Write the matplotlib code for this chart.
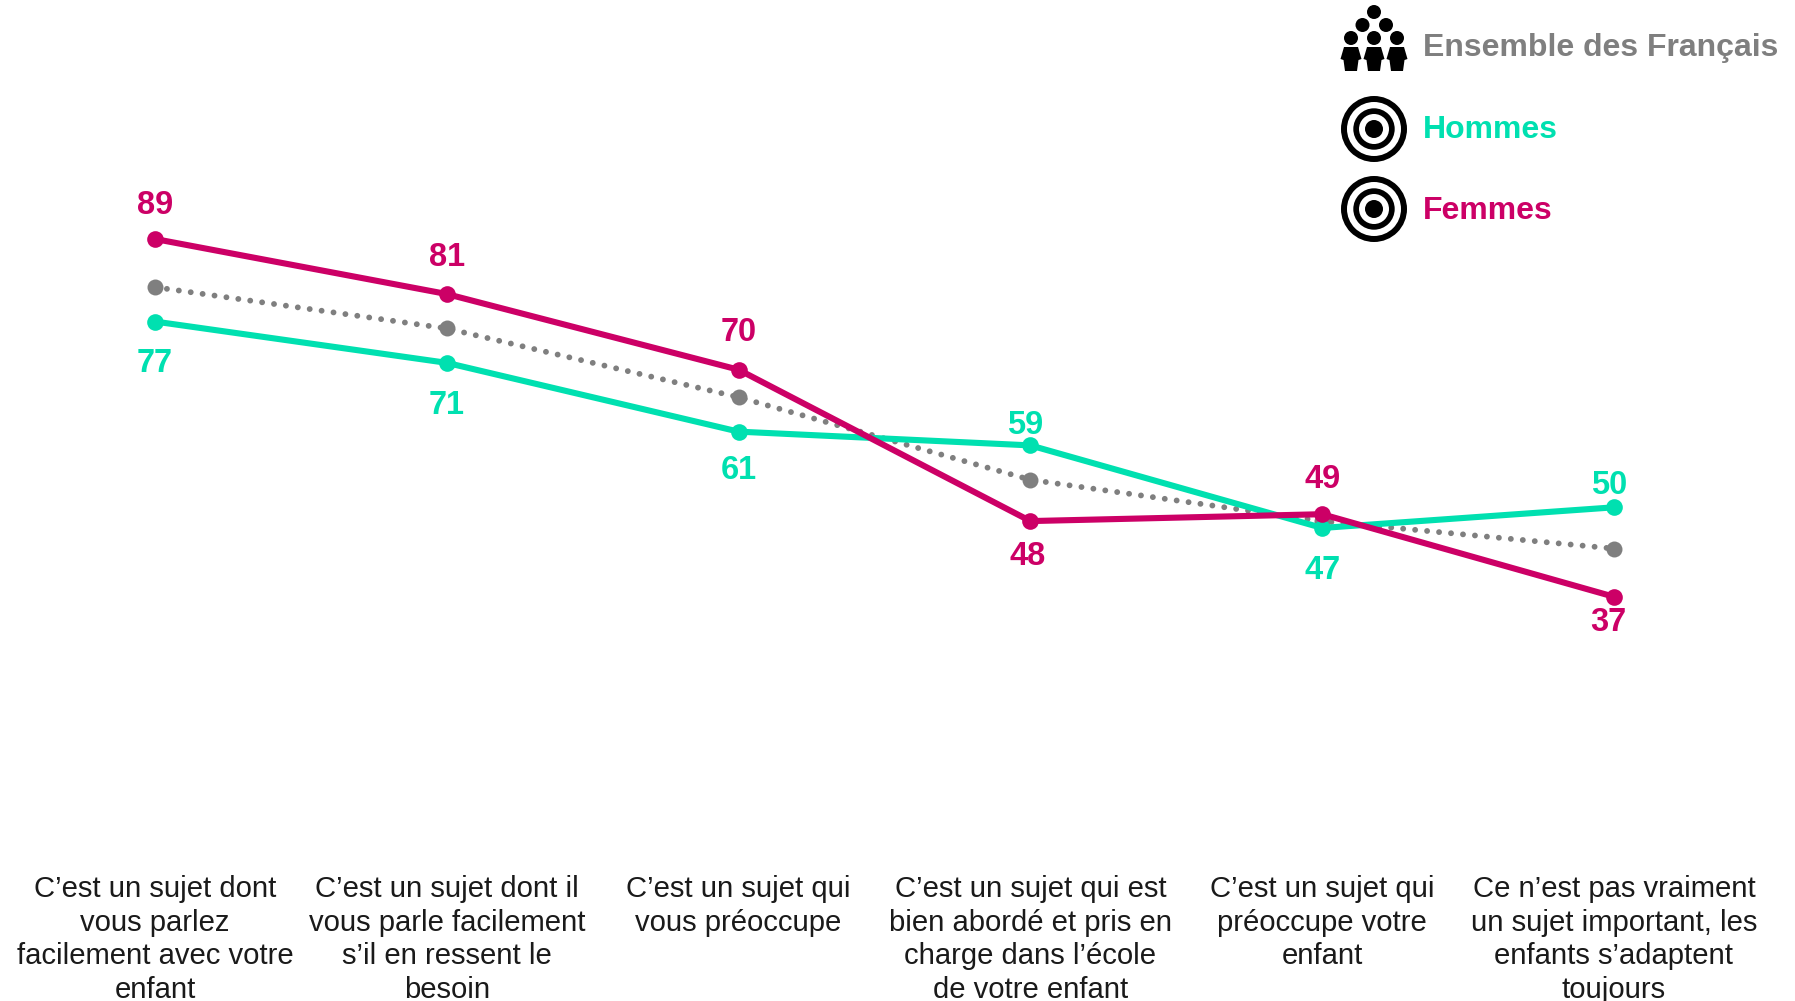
import matplotlib
matplotlib.use("Agg")
import matplotlib.pyplot as plt
from matplotlib.patches import Circle, Polygon

plt.rcParams['font.family'] = ['Liberation Sans', 'DejaVu Sans']

categories = [
    "C’est un sujet dont\nvous parlez\nfacilement avec votre\nenfant",
    "C’est un sujet dont il\nvous parle facilement\ns’il en ressent le\nbesoin",
    "C’est un sujet qui\nvous préoccupe",
    "C’est un sujet qui est\nbien abordé et pris en\ncharge dans l’école\nde votre enfant",
    "C’est un sujet qui\npréoccupe votre\nenfant",
    "Ce n’est pas vraiment\nun sujet important, les\nenfants s’adaptent\ntoujours",
]
ensemble = [82, 76, 66, 54, 48, 44]
hommes = [77, 71, 61, 59, 47, 50]
femmes = [89, 81, 70, 48, 49, 37]

GREY = "#7f7f7f"
GREEN = "#00e0b0"
PINK = "#cc0066"

# label offsets from the point, in pixels
femmes_dx = [0, 0, 0, -3, 0, -6]
femmes_dy = [33, 37, 37, -35, 35, -26]
hommes_dx = [0, 0, 0, -5, 0, -5]
hommes_dy = [-42, -43, -39, 20, -43, 22]

W, H = 1795, 1001
fig = plt.figure(figsize=(W / 100, H / 100), dpi=100)
ax = fig.add_axes([0, 0, 1, 1])
ax.set_xlim(-155 / 291.8, (W - 155) / 291.8)
ax.set_ylim(89 - (H - 239) / 6.88, 89 + 239 / 6.88)
ax.axis("off")

x = list(range(len(categories)))
ax.plot(x, ensemble, color=GREY, lw=4.2, ls=(0, (0.01, 2.05)), dash_capstyle="round",
        marker="o", ms=11.5, mew=0)
ax.plot(x, hommes, color=GREEN, lw=4.4, marker="o", ms=12, mew=0)
ax.plot(x, femmes, color=PINK, lw=4.4, marker="o", ms=12, mew=0)


def value_labels(values, dxs, dys, color):
    for i, v in enumerate(values):
        ax.annotate(str(v), (i, v), xytext=(dxs[i] * 0.72, dys[i] * 0.72),
                    textcoords="offset points", ha="center", va="center",
                    color=color, fontsize=23.5, fontweight="bold")


value_labels(femmes, femmes_dx, femmes_dy, PINK)
value_labels(hommes, hommes_dx, hommes_dy, GREEN)

# category labels under the chart
trans = ax.get_xaxis_transform()
for i, label in enumerate(categories):
    ax.text(i, 1 - 875 / H, label, transform=trans, ha="center", va="top",
            fontsize=21.1, color="#1a1a1a", linespacing=1.26)

# legend, drawn in figure pixels (y going down)
leg = fig.add_axes([0, 0, 1, 1], facecolor="none")
leg.set_xlim(0, W)
leg.set_ylim(H, 0)
leg.axis("off")

for cy in [129, 209]:
    for r, c in [(33, "black"), (27, "white"), (20.7, "black"), (15, "white"), (9, "black")]:
        leg.add_patch(Circle((1374, cy), r, color=c, lw=0))

for hx, hy in [(1374, 12), (1362.5, 25), (1386, 25), (1351, 38), (1374, 38), (1397, 38)]:
    leg.add_patch(Circle((hx, hy), 7, color="black", lw=0))
for bx in [1351, 1374, 1397]:
    leg.add_patch(Polygon([(bx - 7, 47), (bx + 7, 47), (bx + 10.5, 59), (bx + 7.5, 60),
                           (bx + 6, 71), (bx - 6, 71), (bx - 7.5, 60), (bx - 10.5, 59)],
                          closed=True, color="black", lw=0))

legend_labels = ["Ensemble des Français", "Hommes", "Femmes"]
legend_colors = [GREY, GREEN, PINK]
legend_y = [48, 130, 211]
for name, col, ly in zip(legend_labels, legend_colors, legend_y):
    leg.text(1423, ly, name, color=col, fontsize=23, fontweight="bold", va="center", ha="left")

fig.savefig("out.png", dpi=100)
